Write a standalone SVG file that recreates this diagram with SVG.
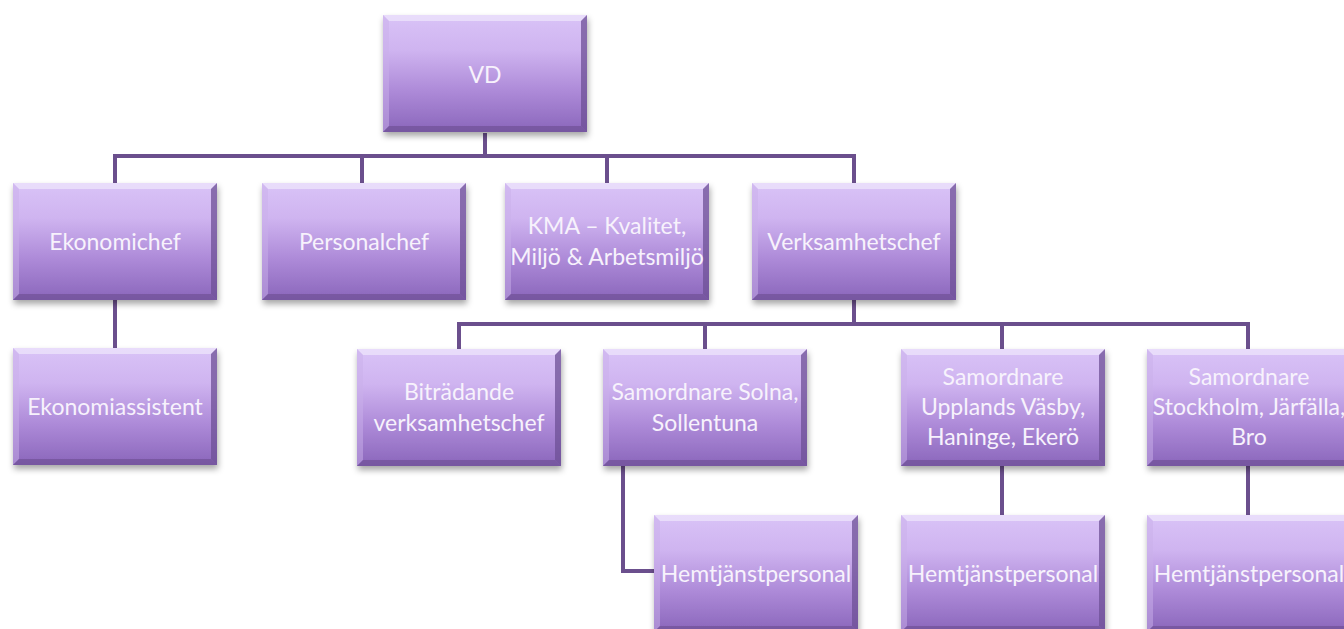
<svg xmlns="http://www.w3.org/2000/svg" width="1344" height="629" viewBox="0 0 1344 629">
<defs>
<linearGradient id="fill" x1="0" y1="0" x2="0" y2="1">
<stop offset="0" stop-color="#d9c3f7"/>
<stop offset="0.3" stop-color="#cfb4f0"/>
<stop offset="0.65" stop-color="#ad8ad8"/>
<stop offset="1" stop-color="#8a66bb"/>
</linearGradient>
<filter id="sh" x="-10%" y="-10%" width="125%" height="130%">
<feDropShadow dx="1" dy="4" stdDeviation="3" flood-color="#000" flood-opacity="0.35"/>
</filter>
<symbol id="box" viewBox="0 0 204 117" overflow="visible">
<rect x="0" y="0" width="204" height="117" fill="url(#fill)" filter="url(#sh)"/>
<polygon points="0,0 204,0 198,6 6,6" fill="#ece2fb" opacity="0.8"/>
<polygon points="0,0 6,6 6,111 0,117" fill="#c9b0ea" opacity="0.5"/>
<polygon points="204,0 204,117 198,111 198,6" fill="#6e5096" opacity="0.75"/>
<polygon points="0,117 204,117 198,111 6,111" fill="#6a4d8f" opacity="0.6"/>
</symbol>
</defs>
<style>
.c{fill:none;stroke:#6b4f8d;stroke-width:4}
.t{font-family:Lato,"Liberation Sans",sans-serif;font-size:23px;font-weight:400;fill:#f7f2fc;text-anchor:middle}
</style>
<rect width="1344" height="629" fill="#ffffff"/>
<g id="connectors">
<path class="c" d="M485,133 V156 M115,183 V156 H854 V183 M362,156 V183 M607,156 V183"/>
<path class="c" d="M115,299 V348"/>
<path class="c" d="M854,299 V324 M459,349 V324 H1248 V349 M705,324 V349 M1002,324 V349"/>
<path class="c" d="M623,466 V571 H654"/>
<path class="c" d="M1002,466 V515 M1248,466 V515"/>
</g>
<g id="vd"><use href="#box" x="383" y="15" width="204" height="117"/><text class="t" x="485" y="83">VD</text></g>
<g id="ekonomichef"><use href="#box" x="13" y="183" width="204" height="117"/><text class="t" x="115" y="250">Ekonomichef</text></g>
<g id="personalchef"><use href="#box" x="262" y="183" width="204" height="117"/><text class="t" x="364" y="250">Personalchef</text></g>
<g id="kma"><use href="#box" x="505" y="183" width="204" height="117"/><text class="t" x="607" y="234">KMA – Kvalitet,</text><text class="t" x="607" y="265">Miljö &amp; Arbetsmiljö</text></g>
<g id="verksamhetschef"><use href="#box" x="752" y="183" width="204" height="117"/><text class="t" x="854" y="250">Verksamhetschef</text></g>
<g id="ekonomiassistent"><use href="#box" x="13" y="348" width="204" height="117"/><text class="t" x="115" y="415">Ekonomiassistent</text></g>
<g id="bitradande"><use href="#box" x="357" y="349" width="204" height="117"/><text class="t" x="459" y="400">Biträdande</text><text class="t" x="459" y="431">verksamhetschef</text></g>
<g id="solna"><use href="#box" x="603" y="349" width="204" height="117"/><text class="t" x="705" y="400">Samordnare Solna,</text><text class="t" x="705" y="431">Sollentuna</text></g>
<g id="upplands"><use href="#box" x="901" y="349" width="204" height="117"/><text class="t" x="1003" y="385">Samordnare</text><text class="t" x="1003" y="415">Upplands Väsby,</text><text class="t" x="1003" y="445">Haninge, Ekerö</text></g>
<g id="stockholm"><use href="#box" x="1147" y="349" width="204" height="117"/><text class="t" x="1249" y="385">Samordnare</text><text class="t" x="1249" y="415">Stockholm, Järfälla,</text><text class="t" x="1249" y="445">Bro</text></g>
<g id="hemtjanst1"><use href="#box" x="654" y="515" width="204" height="117"/><text class="t" x="756" y="582">Hemtjänstpersonal</text></g>
<g id="hemtjanst2"><use href="#box" x="901" y="515" width="204" height="117"/><text class="t" x="1003" y="582">Hemtjänstpersonal</text></g>
<g id="hemtjanst3"><use href="#box" x="1147" y="515" width="204" height="117"/><text class="t" x="1249" y="582">Hemtjänstpersonal</text></g>
</svg>
